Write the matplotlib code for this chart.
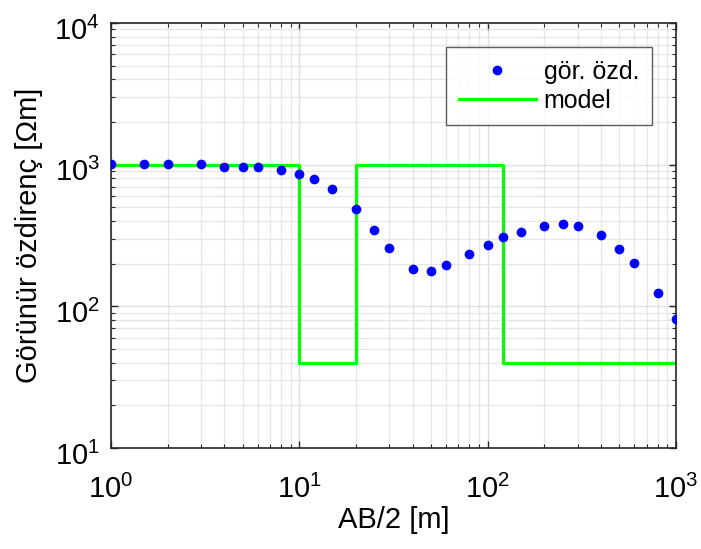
import matplotlib
matplotlib.use("Agg")
import matplotlib.pyplot as plt
import matplotlib.transforms as mtransforms
from matplotlib.ticker import LogLocator, NullFormatter

plt.rcParams['font.family'] = ['Liberation Sans', 'DejaVu Sans']
plt.rcParams['mathtext.fontset'] = 'custom'
plt.rcParams['mathtext.rm'] = 'Liberation Sans'
plt.rcParams['mathtext.it'] = 'Liberation Sans:italic'
plt.rcParams['mathtext.bf'] = 'Liberation Sans:bold'

# Measured apparent resistivity
ab2 = [1, 1.5, 2, 3, 4, 5, 6, 8, 10, 12, 15, 20, 25, 30, 40, 50, 60, 80,
       100, 120, 150, 200, 250, 300, 400, 500, 600, 800, 1000]
rho_a = [1010, 1010, 1010, 1010, 968, 968, 968, 913, 864, 789, 677, 486, 348, 256,
         184, 179, 195, 234, 271, 307, 337, 369, 382, 371, 318, 255, 201, 124, 81]

# Layered model (step)
model_x = [1, 10, 20, 120, 1000]
model_rho = [1000, 40, 1000, 40, 40]

fig = plt.figure(figsize=(7.01, 5.49), dpi=100)
ax = fig.add_axes([111/701, 1-448/549, (676-111)/701, (448-23)/549])

ax.plot(ab2, rho_a, 'o', color=(0, 0, 1), markersize=7, markeredgewidth=0,
        label='gör. özd.', zorder=3)
ax.step(model_x, model_rho, where='post', color=(0, 1, 0), linewidth=2.3,
        label='model', zorder=2)

ax.set_xscale('log')
ax.set_yscale('log')
ax.set_xlim(1, 1000)
ax.set_ylim(10, 1e4)

for axis in (ax.xaxis, ax.yaxis):
    axis.set_major_locator(LogLocator(base=10, numticks=10))
    axis.set_minor_locator(LogLocator(base=10, subs=range(2, 10), numticks=20))
    axis.set_minor_formatter(NullFormatter())

ax.grid(True, which='major', color='#dfdfdf', linewidth=1.0, zorder=0)
ax.grid(True, which='minor', color='#e6e6e6', linewidth=0.9, zorder=0)
ax.set_axisbelow(True)

ax.tick_params(which='both', direction='in', top=True, right=True, colors='#262626')
ax.tick_params(which='major', length=5, width=1.0, labelsize=21, labelcolor='black')
ax.tick_params(which='minor', length=3, width=0.8)
ax.tick_params(axis='y', pad=8)
ax.tick_params(axis='x', pad=19)
for s in ax.spines.values():
    s.set_color('#262626')
    s.set_linewidth(1.2)

# shift y tick labels slightly downward (as in reference)
offset = mtransforms.ScaledTranslation(0, -5/100, fig.dpi_scale_trans)
for lbl in ax.get_yticklabels():
    lbl.set_transform(lbl.get_transform() + offset)

ax.set_xlabel('AB/2 [m]', fontsize=21, labelpad=2)
ax.set_ylabel('Görünür özdirenç [Ωm]', fontsize=21, labelpad=8)

leg = ax.legend(loc='upper right', bbox_to_anchor=(0.957, 0.943), fontsize=18,
                frameon=True, fancybox=False, edgecolor='#333333',
                borderpad=0.5, handlelength=3.1, handletextpad=0.3,
                labelspacing=0.2, borderaxespad=0.0)
leg.get_frame().set_linewidth(1.0)

fig.savefig('out.png', dpi=100)
